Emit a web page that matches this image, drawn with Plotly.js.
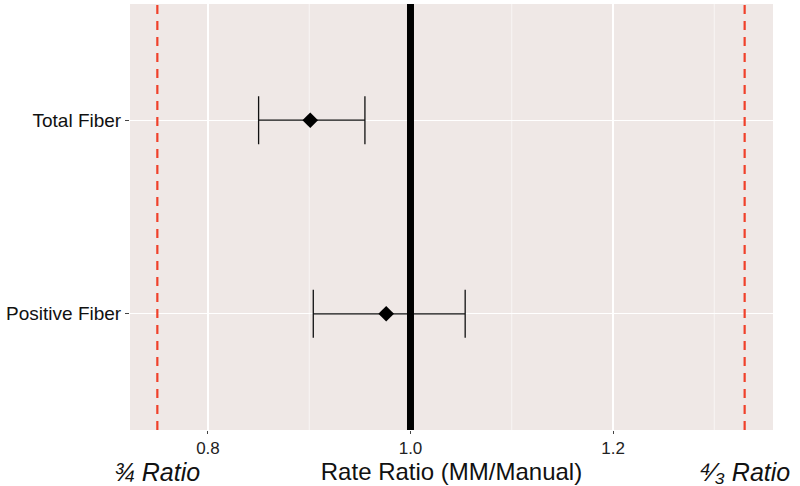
<!DOCTYPE html>
<html>
<head>
<meta charset="utf-8">
<script src="https://cdn.plot.ly/plotly-3.0.1.min.js"></script>
<style>
  body { margin: 0; background: #fff; }
  #graph { width: 800px; height: 486px; }
</style>
</head>
<body>
<div id="graph"></div>
<script>
// forest plot data: rate ratio estimates with CI
const outcomes = ['Positive Fiber', 'Total Fiber'];
const estimates = [0.976, 0.901];
const lowerCI = [0.904, 0.850];
const upperCI = [1.054, 0.955];

const refLine = 1.0;                 // no-difference line
const boundLines = [0.75, 1.33];     // 3/4 and 4/3 ratio bounds
const boundLabels = ['¾ Ratio', '⁴⁄₃ Ratio'];

const xTicks = [0.8, 1.0, 1.2];
const xTickText = ['0.8', '1.0', '1.2'];

const panelBg = '#EFE8E6';
const font = 'Liberation Sans, Arial, sans-serif';

const points = {
    x: estimates,
    y: outcomes,
    type: 'scatter',
    mode: 'markers',
    marker: {symbol: 'diamond', size: 12, color: '#000'},
    error_x: {
        type: 'data',
        symmetric: false,
        array: estimates.map((v, i) => upperCI[i] - v),
        arrayminus: estimates.map((v, i) => v - lowerCI[i]),
        color: '#111',
        thickness: 1.3,
        width: 24
    },
    hoverinfo: 'skip'
};

const shapes = [];
// minor grid (ggplot style)
[0.9, 1.1, 1.3].forEach(v => shapes.push({
    type: 'line', xref: 'x', yref: 'paper', x0: v, x1: v, y0: 0, y1: 1,
    line: {color: '#fff', width: 0.6}, layer: 'below'
}));
boundLines.forEach(v => shapes.push({
    type: 'line', xref: 'x', yref: 'paper', x0: v, x1: v, y0: 0, y1: 1,
    line: {color: '#F0402A', width: 2.2, dash: '9px,7px'}
}));
shapes.push({
    type: 'line', xref: 'x', yref: 'paper', x0: refLine, x1: refLine, y0: 0, y1: 1,
    line: {color: '#000', width: 7}
});

const annotations = boundLines.map((v, i) => ({
    x: v, xref: 'x', y: -0.062, yref: 'paper',
    yanchor: 'top', xanchor: 'center',
    text: '<i>' + boundLabels[i] + '</i>',
    showarrow: false,
    font: {family: font, size: 25, color: '#111'}
}));

const layout = {
    width: 800,
    height: 486,
    margin: {l: 130, r: 27, t: 4, b: 56},
    paper_bgcolor: '#fff',
    plot_bgcolor: panelBg,
    showlegend: false,
    font: {family: font, color: '#111'},
    xaxis: {
        range: [0.723, 1.358],
        tickvals: xTicks,
        ticktext: xTickText,
        ticks: 'outside',
        ticklen: 3,
        tickcolor: '#444',
        tickfont: {size: 17, color: '#222'},
        gridcolor: '#fff',
        gridwidth: 1.2,
        zeroline: false,
        showline: false,
        automargin: false,
        title: {text: 'Rate Ratio (MM/Manual)', font: {size: 24, color: '#111'}, standoff: 0}
    },
    yaxis: {
        type: 'category',
        categoryarray: outcomes,
        range: [-0.6, 1.6],
        ticks: 'outside',
        ticklen: 4,
        tickcolor: '#444',
        tickfont: {size: 19, color: '#111'},
        gridcolor: '#fff',
        gridwidth: 1.2,
        zeroline: false,
        showline: false,
        automargin: false
    },
    shapes: shapes,
    annotations: annotations
};

Plotly.newPlot('graph', [points], layout, {displayModeBar: false, staticPlot: true});
</script>
</body>
</html>
